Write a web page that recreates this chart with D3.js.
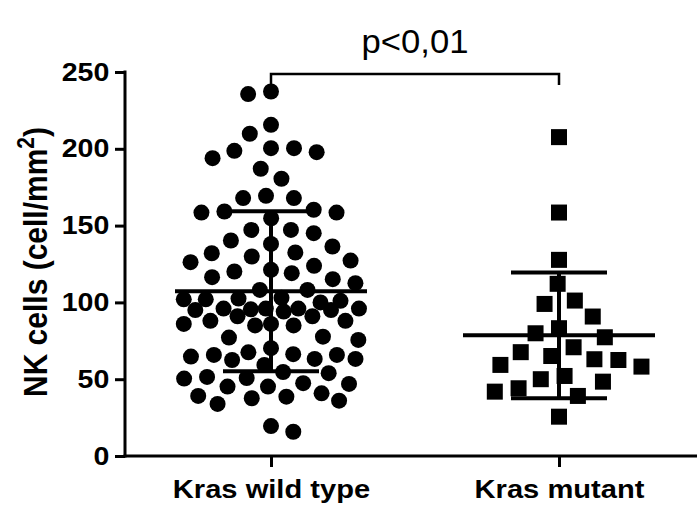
<!DOCTYPE html>
<html>
<head>
<meta charset="utf-8">
<script src="https://cdn.jsdelivr.net/npm/d3@7"></script>
<style>
body { margin: 0; background: #fff; }
text { font-family: "Liberation Sans", Arial, sans-serif; fill: #000; }
</style>
</head>
<body>
<svg width="698" height="507"></svg>
<script>
var groups = ["Kras wild type", "Kras mutant"];

// NK cells per mm2
var wildType = [237.3, 235.6, 215.6, 209.8, 200.4, 197.8, 193.9, 198.7, 200.4, 187, 180.5, 167.9, 167.9, 169.4,
	160.3, 158.5, 154.8, 158.5, 159.2,
	147.2, 140.3, 136.4, 138.1, 145.1, 147.2,
	132, 127.2, 132.5, 129.9, 123.8, 120.1, 116.4, 119, 121.2, 126.2,
	112.5, 115.1, 108.1, 108.1,
	102.5, 102, 100, 101, 102, 103,
	96, 96, 95.5, 95, 94, 95, 96, 96,
	91, 91,
	88, 86, 85, 85, 86, 88,
	77.1, 75.6, 77.7, 70.2, 65.8, 63.2, 62.5, 66.3, 65.8, 67.5, 59.3, 63.2, 64.7,
	54.7, 51.5, 50.4, 50.8, 53.9,
	47.4, 45.2, 40.8, 38.6, 36, 33.9, 37.6, 39.1, 45.2, 46.9,
	15.8, 19.5];

var mutant = [207.6, 158.5, 127.7, 112.1, 99, 101.2, 90.8, 83.2, 79.9, 77.3, 70.8, 65.1,
	62.5, 58.2, 59.3, 63, 67.6, 50, 44.1, 41.9, 39.1, 48.4, 52.1, 25.6];

var yTicks = [0, 50, 100, 150, 200, 250];
var yTitle = "NK cells (cell/mm";
var pLabel = "p<0,01";

var svg = d3.select("svg");
var stretch = 1.12; // the picture is a bit wider than tall

var y = d3.scaleLinear().domain([0, 250]).range([456, 72]);
var x = d3.scalePoint().domain(groups).range([271, 559]);

// beeswarm: nearest free x offset, squeezing the spacing when a row gets too wide
function swarm(values, dist, maxW) {
	var placed = [];
	values.slice().sort(function(a, b) { return b - a; }).forEach(function(v, i) {
		var py = y(v);
		var dx;
		for (var d = dist; d > 4 && dx === undefined; d -= 1) {
			var cands = [0];
			placed.forEach(function(p) {
				var dy = Math.abs(p.y - py);
				if (dy < d) {
					var off = Math.sqrt(d * d - dy * dy);
					cands.push(p.dx + off, p.dx - off);
				}
			});
			cands = cands.filter(function(c) { return Math.abs(c) <= maxW; });
			cands.sort(function(a, b) { return Math.abs(a) - Math.abs(b) || (i % 2 ? a - b : b - a); });
			dx = cands.find(function(c) {
				return placed.every(function(p) {
					return (p.dx - c) * (p.dx - c) + (p.y - py) * (p.y - py) >= d * d - 0.01;
				});
			});
		}
		placed.push({v: v, y: py, dx: dx || 0});
	});
	return placed;
}

// y axis
var yAxis = svg.append("g")
	.attr("transform", "translate(125,0)")
	.call(d3.axisLeft(y).tickValues(yTicks).tickSize(10).tickSizeOuter(0).tickPadding(4));
yAxis.select(".domain").attr("stroke-width", 3).attr("d", "M0," + (y(250) - 1.5) + "V" + (y(0) + 1.5));
yAxis.selectAll(".tick line").attr("stroke-width", 3);
yAxis.selectAll(".tick text")
	.attr("font-size", 25.5)
	.attr("font-weight", "bold")
	.attr("font-family", null)
	.attr("transform", "scale(" + stretch + ",1)");

// x axis
var xAxis = svg.append("g")
	.attr("transform", "translate(0,456)")
	.call(d3.axisBottom(x).tickSize(11).tickSizeOuter(0).tickPadding(10));
xAxis.select(".domain").attr("stroke-width", 3).attr("d", "M123.5,0H697");
xAxis.selectAll(".tick line").attr("stroke-width", 3);
xAxis.selectAll(".tick text")
	.attr("font-size", 26)
	.attr("font-weight", "bold")
	.attr("font-family", null)
	.attr("y", 0)
	.attr("dy", 0)
	.attr("transform", "translate(0,42) scale(" + stretch + ",1)");

// y title
var title = svg.append("text")
	.attr("transform", "translate(47,262) scale(" + stretch + ",1) rotate(-90)")
	.attr("text-anchor", "middle")
	.attr("font-size", 30)
	.attr("font-weight", "bold");
title.append("tspan").text(yTitle);
title.append("tspan").attr("baseline-shift", "super").attr("font-size", 21).text("2");
title.append("tspan").text(")");

// points
var wt = swarm(wildType, 23, 88);
svg.append("g").selectAll("circle")
	.data(wt).enter()
	.append("circle")
	.attr("cx", function(d) { return x(groups[0]) + d.dx; })
	.attr("cy", function(d) { return d.y; })
	.attr("r", 8)
	.attr("fill", "#000");

var mu = swarm(mutant, 24, 88);
svg.append("g").selectAll("rect")
	.data(mu).enter()
	.append("rect")
	.attr("x", function(d) { return x(groups[1]) + d.dx - 8; })
	.attr("y", function(d) { return d.y - 8; })
	.attr("width", 16)
	.attr("height", 16)
	.attr("fill", "#000");

// mean and SD
[wildType, mutant].forEach(function(vals, i) {
	var cx = x(groups[i]);
	var m = d3.mean(vals), sd = d3.deviation(vals);
	var g = svg.append("g").attr("stroke", "#000").attr("stroke-width", 4);
	g.append("line").attr("x1", cx).attr("x2", cx).attr("y1", y(m + sd)).attr("y2", y(m - sd));
	g.append("line").attr("x1", cx - 96).attr("x2", cx + 96).attr("y1", y(m)).attr("y2", y(m));
	g.append("line").attr("x1", cx - 48).attr("x2", cx + 48).attr("y1", y(m + sd)).attr("y2", y(m + sd));
	g.append("line").attr("x1", cx - 48).attr("x2", cx + 48).attr("y1", y(m - sd)).attr("y2", y(m - sd));
});

// significance bracket
svg.append("path")
	.attr("d", "M" + x(groups[0]) + ",85V74H" + x(groups[1]) + "V85")
	.attr("fill", "none")
	.attr("stroke", "#000")
	.attr("stroke-width", 2.5);

svg.append("text")
	.attr("transform", "translate(" + ((x(groups[0]) + x(groups[1])) / 2) + ",53) scale(1.05,1)")
	.attr("text-anchor", "middle")
	.attr("font-size", 33)
	.text(pLabel);
</script>
</body>
</html>
